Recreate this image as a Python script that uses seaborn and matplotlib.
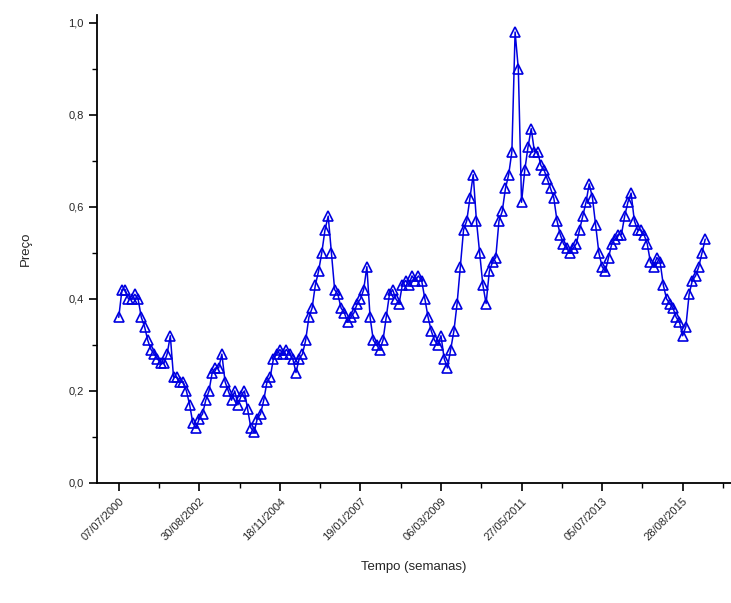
import numpy as np
import pandas as pd
import matplotlib
matplotlib.use("Agg")
import matplotlib.pyplot as plt
import seaborn as sns
from matplotlib.ticker import MultipleLocator, FuncFormatter

# Weekly price, sampled every 4 weeks (week index = position * 4)
week_step = 4
price = [
    0.36, 0.42, 0.42, 0.40, 0.40, 0.41, 0.40, 0.36, 0.34, 0.31,
    0.29, 0.28, 0.27, 0.26, 0.26, 0.28, 0.32, 0.23, 0.23, 0.22,
    0.22, 0.20, 0.17, 0.13, 0.12, 0.14, 0.15, 0.18, 0.20, 0.24,
    0.25, 0.25, 0.28, 0.22, 0.20, 0.18, 0.20, 0.17, 0.19, 0.20,
    0.16, 0.12, 0.11, 0.14, 0.15, 0.18, 0.22, 0.23, 0.27, 0.28,
    0.29, 0.28, 0.29, 0.28, 0.27, 0.24, 0.27, 0.28, 0.31, 0.36,
    0.38, 0.43, 0.46, 0.50, 0.55, 0.58, 0.50, 0.42, 0.41, 0.38,
    0.37, 0.35, 0.36, 0.37, 0.39, 0.40, 0.42, 0.47, 0.36, 0.31,
    0.30, 0.29, 0.31, 0.36, 0.41, 0.42, 0.40, 0.39, 0.43, 0.44,
    0.43, 0.45, 0.44, 0.45, 0.44, 0.40, 0.36, 0.33, 0.31, 0.30,
    0.32, 0.27, 0.25, 0.29, 0.33, 0.39, 0.47, 0.55, 0.57, 0.62,
    0.67, 0.57, 0.50, 0.43, 0.39, 0.46, 0.48, 0.49, 0.57, 0.59,
    0.64, 0.67, 0.72, 0.98, 0.90, 0.61, 0.68, 0.73, 0.77, 0.72,
    0.72, 0.69, 0.68, 0.66, 0.64, 0.62, 0.57, 0.54, 0.52, 0.51,
    0.50, 0.51, 0.52, 0.55, 0.58, 0.61, 0.65, 0.62, 0.56, 0.50,
    0.47, 0.46, 0.49, 0.52, 0.53, 0.54, 0.54, 0.58, 0.61, 0.63,
    0.57, 0.55, 0.55, 0.54, 0.52, 0.48, 0.47, 0.49, 0.48, 0.43,
    0.40, 0.39, 0.38, 0.36, 0.35, 0.32, 0.34, 0.41, 0.44, 0.45,
    0.47, 0.50, 0.53,
]

# Date labels placed every 100 weeks
tick_weeks = [0, 100, 200, 300, 400, 500, 600, 700]
tick_labels = ["07/07/2000", "30/08/2002", "18/11/2004", "19/01/2007",
               "06/03/2009", "27/05/2011", "05/07/2013", "28/08/2015"]

df = pd.DataFrame({"semana": np.arange(len(price)) * week_step, "preco": price})

sns.set_theme(style="ticks")
plt.rcParams["font.family"] = ["Liberation Sans", "DejaVu Sans"]

fig = plt.figure(figsize=(7.31, 6.03), dpi=100)
ax = fig.add_axes([97 / 731, 120 / 603, (731 - 97) / 731, (483 - 15) / 603])

blue = "#0000E0"
sns.lineplot(data=df, x="semana", y="preco", ax=ax, color=blue, linewidth=1.1,
             marker="^", markersize=6.5, markerfacecolor="none",
             markeredgecolor=blue, markeredgewidth=1.2)

ax.set_xlim(-27, 760)
ax.set_ylim(0, 1.017)

ax.set_xticks(tick_weeks)
ax.set_xticklabels(tick_labels, rotation=45, ha="right", rotation_mode="anchor",
                   fontsize=8)
ax.xaxis.set_minor_locator(MultipleLocator(50))
ax.yaxis.set_major_locator(MultipleLocator(0.2))
ax.yaxis.set_minor_locator(MultipleLocator(0.1))
ax.yaxis.set_major_formatter(FuncFormatter(lambda v, p: f"{v:.1f}".replace(".", ",")))
ax.tick_params(axis="y", labelsize=8)

ax.tick_params(which="major", direction="out", length=6, width=1.2, color="black")
ax.tick_params(which="minor", direction="out", length=3.5, width=1.0, color="black")

for side in ("top", "right"):
    ax.spines[side].set_visible(False)
for side in ("left", "bottom"):
    ax.spines[side].set_linewidth(1.3)
    ax.spines[side].set_color("black")

ax.set_xlabel("Tempo (semanas)", fontsize=9.5, labelpad=13)
ax.set_ylabel("Preço", fontsize=9.5, labelpad=26)

fig.savefig("out.png", dpi=100)
